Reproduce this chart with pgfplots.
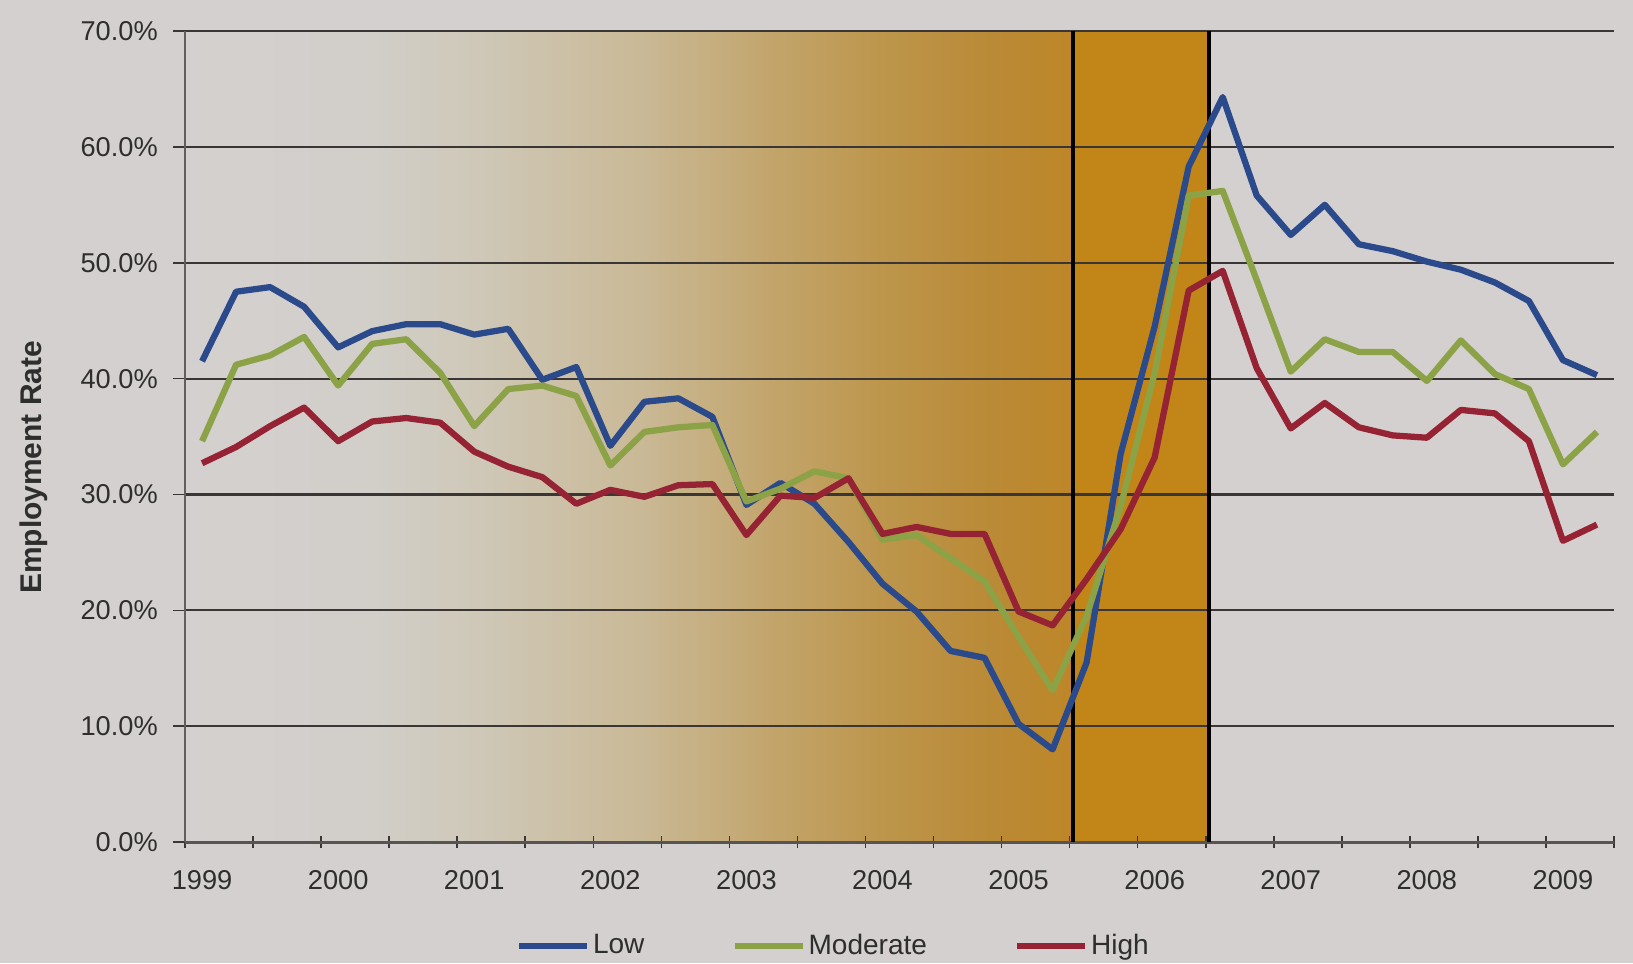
\documentclass[border=0pt]{standalone}
\usepackage{fontspec}
\setmainfont{Liberation Sans}
\usepackage{xcolor}
\usepackage{pgfplots}
\pgfplotsset{compat=1.18}
\usepackage{pgfplotstable}

\definecolor{pagebg}{HTML}{D3D0CF}
\definecolor{gridcol}{HTML}{3A3636}
\definecolor{labelcol}{HTML}{2E2E2E}
\definecolor{lowblue}{HTML}{2B4A8B}
\definecolor{modgreen}{HTML}{8CA247}
\definecolor{highred}{HTML}{962334}
\definecolor{shA}{HTML}{D2CFCA}
\definecolor{shB}{HTML}{CFC8B8}
\definecolor{shC}{HTML}{C9B894}
\definecolor{shD}{HTML}{C3A66E}
\definecolor{shE}{HTML}{BD964C}
\definecolor{shF}{HTML}{BA8A36}
\definecolor{shG}{HTML}{BE8628}
\definecolor{bandgold}{HTML}{C28618}

\pagecolor{pagebg}

% Quarterly employment rate (%), 1999 Q1 = 0 ... 2009 Q2 = 41
\pgfplotstableread{
q  low   mod   high
0  41.5  34.6  32.7
1  47.5  41.2  34.1
2  47.9  42.0  35.9
3  46.2  43.6  37.5
4  42.7  39.4  34.6
5  44.1  43.0  36.3
6  44.7  43.4  36.6
7  44.7  40.5  36.2
8  43.8  35.9  33.7
9  44.3  39.1  32.4
10 39.9  39.4  31.5
11 41.0  38.5  29.2
12 34.2  32.5  30.4
13 38.0  35.4  29.8
14 38.3  35.8  30.8
15 36.7  36.0  30.9
16 29.1  29.4  26.5
17 31.0  30.5  29.9
18 29.2  32.0  29.7
19 25.9  31.4  31.4
20 22.3  26.1  26.6
21 19.9  26.5  27.2
22 16.5  24.5  26.6
23 15.9  22.5  26.6
24 10.2  17.7  19.9
25 8.0   13.1  18.7
26 15.5  19.5  22.7
27 33.5  29.0  27.0
28 44.5  40.5  33.2
29 58.3  55.8  47.6
30 64.3  56.2  49.3
31 55.8  48.5  40.9
32 52.4  40.6  35.7
33 55.0  43.4  37.9
34 51.6  42.3  35.8
35 51.0  42.3  35.1
36 50.1  39.8  34.9
37 49.4  43.3  37.3
38 48.3  40.4  37.0
39 46.7  39.1  34.6
40 41.6  32.6  26.0
41 40.3  35.4  27.4
}\ratetable

\begin{document}
\begin{tikzpicture}
\begin{axis}[
  set layers,
  at={(0,0)}, anchor=south west,
  scale only axis, width=525pt, height=298pt,
  xmin=-0.5, xmax=41.5, ymin=0, ymax=70,
  axis x line*=bottom, axis y line*=left,
  x axis line style={draw=gridcol!85, line width=1.1pt},
  y axis line style={draw=gridcol!80, line width=0.6pt},
  ymajorgrids,
  major grid style={draw=gridcol, line width=0.8pt},
  ytick={0,10,...,70},
  yticklabels={0.0\%,10.0\%,20.0\%,30.0\%,40.0\%,50.0\%,60.0\%,70.0\%},
  xtick={-0.5,1.5,...,41.5},
  xticklabels={},
  extra x ticks={0,4,...,40},
  extra x tick labels={1999,2000,2001,2002,2003,2004,2005,2006,2007,2008,2009},
  extra x tick style={major tick length=0pt, xticklabel style={yshift=-7pt}},
  xtick align=center, ytick align=outside,
  major tick length=4.5pt,
  tick style={draw=gridcol, line width=0.6pt},
  /pgf/number format/assume math mode=true,
  ticklabel style={font=\fontsize{10}{12}\selectfont, text=labelcol},
  yticklabel style={xshift=-2pt},
  ylabel={Employment Rate},
  every axis y label/.style={at={(axis description cs:0,0.462)}, xshift=-55.5pt,
    rotate=90, anchor=center, font=\bfseries\fontsize{11}{13}\selectfont, text=labelcol},
  legend columns=3,
  legend style={at={(0.454,-0.128)}, anchor=center, draw=none, fill=none,
    font=\fontsize{10.3}{12}\selectfont, text=labelcol,
    /tikz/every even column/.append style={column sep=31pt},
    nodes={inner sep=1pt}},
  legend image code/.code={\draw[#1] (0pt,0pt) -- (25pt,0pt);},
  every axis plot/.append style={line width=2.3pt, line join=round},
]
\begin{pgfonlayer}{axis background}
  % gradient that deepens towards the shaded period
  \fill[left color=pagebg, right color=shA] (axis cs:-0.5,0) rectangle (axis cs:4.75,70);
  \fill[left color=shA, right color=shB] (axis cs:4.7,0) rectangle (axis cs:8.15,70);
  \fill[left color=shB, right color=shC] (axis cs:8.1,0) rectangle (axis cs:13.15,70);
  \fill[left color=shC, right color=shD] (axis cs:13.1,0) rectangle (axis cs:16.55,70);
  \fill[left color=shD, right color=shE] (axis cs:16.5,0) rectangle (axis cs:19.95,70);
  \fill[left color=shE, right color=shF] (axis cs:19.9,0) rectangle (axis cs:23.25,70);
  \fill[left color=shF, right color=shG] (axis cs:23.2,0) rectangle (axis cs:25.6,70);
  % highlighted period
  \fill[bandgold] (axis cs:25.6,0) rectangle (axis cs:29.6,70);
\end{pgfonlayer}
\begin{pgfonlayer}{pre main}
  \draw[black, line width=1.3pt] (axis cs:25.6,0) -- (axis cs:25.6,70);
  \draw[black, line width=1.3pt] (axis cs:29.6,0) -- (axis cs:29.6,70);
\end{pgfonlayer}
\addplot[color=lowblue] table[x=q, y=low] {\ratetable};
\addlegendentry{Low}
\addplot[color=modgreen] table[x=q, y=mod] {\ratetable};
\addlegendentry{Moderate}
\addplot[color=highred] table[x=q, y=high] {\ratetable};
\addlegendentry{High}
\end{axis}
\pgfresetboundingbox
\useasboundingbox (-68pt,-44.5pt) rectangle (532pt,309.4pt);
\end{tikzpicture}
\end{document}
